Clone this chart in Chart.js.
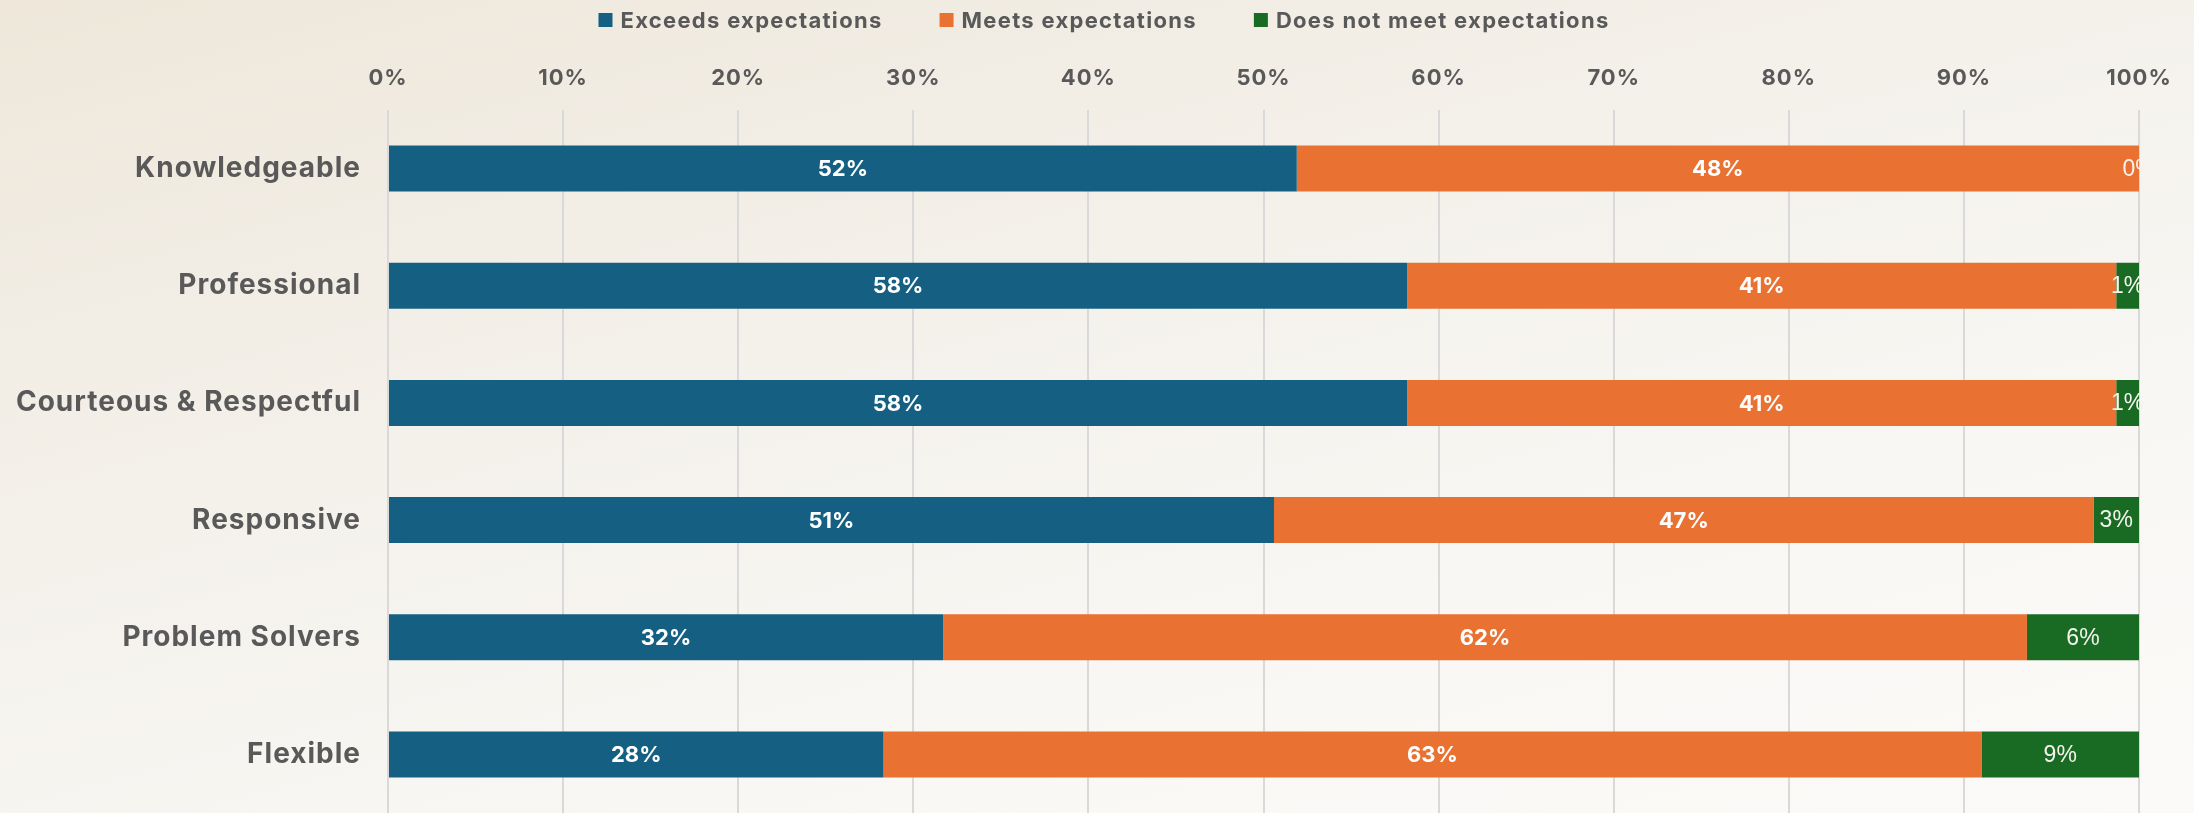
<!DOCTYPE html>
<html><head><meta charset="utf-8">
<script src="https://cdn.jsdelivr.net/npm/chart.js@4.4.1/dist/chart.umd.min.js"></script>
<style>
html,body{margin:0;padding:0;width:2194px;height:813px;overflow:hidden;
background:linear-gradient(165deg,#eee7da 0%,#f4f1eb 40%,#f9f8f5 75%,#fbfaf8 100%);}
#wrap{position:relative;width:2194px;height:813px;}
</style></head><body>
<div id="wrap"><canvas id="c" width="2194" height="813"></canvas></div>
<script>
const categories = ['Knowledgeable','Professional','Courteous & Respectful','Responsive','Problem Solvers','Flexible'];
const seriesNames = ['Exceeds expectations','Meets expectations','Does not meet expectations'];
const exceeds = [51.9, 58.2, 58.2, 50.6, 31.7, 28.3];
const meets = [48.1, 40.5, 40.5, 46.8, 61.9, 62.7];
const doesNotMeet = [0, 1.3, 1.3, 2.6, 6.4, 9.0];
const xTickValues = [0, 10, 20, 30, 40, 50, 60, 70, 80, 90, 100];
const seriesColors = ['#156082', '#E97132', '#196B24'];

const FONT = 'Inter, "Liberation Sans", Arial, sans-serif';
const TEXT = '#595959';

const spacingPlugin = {
  id: 'spacing',
  beforeLayout(chart) { chart.ctx.letterSpacing = '1px'; },
  beforeDraw(chart) { chart.ctx.letterSpacing = '1px'; }
};

const barLabels = {
  id: 'barLabels',
  afterDatasetsDraw(chart) {
    const ctx = chart.ctx;
    chart.data.datasets.forEach((ds, di) => {
      const meta = chart.getDatasetMeta(di);
      meta.data.forEach((bar, i) => {
        const v = ds.data[i];
        const p = bar.getProps(['x', 'y', 'base'], true);
        const cx = (p.x + p.base) / 2;
        ctx.save();
        ctx.letterSpacing = '0px';
        ctx.font = di < 2 ? 'bold 22px ' + FONT : '23px "Liberation Sans", Arial, sans-serif';
        ctx.fillStyle = di < 2 ? '#ffffff' : '#f4f4ec';
        ctx.textAlign = 'center';
        ctx.textBaseline = 'middle';
        ctx.fillText(Math.round(v) + '%', cx, p.y + 1);
        ctx.restore();
      });
    });
  }
};

const topLegend = {
  id: 'topLegend',
  afterDraw(chart) {
    const ctx = chart.ctx;
    ctx.save();
    ctx.letterSpacing = '1.3px';
    ctx.font = 'bold 22px ' + FONT;
    const box = 14, gap = 8, spacing = 57;
    const widths = seriesNames.map(n => ctx.measureText(n).width);
    const total = widths.reduce((a, w) => a + box + gap + w, 0) + spacing * (seriesNames.length - 1);
    let x = chart.width / 2 - total / 2 + 7;
    const y = 20;
    seriesNames.forEach((n, i) => {
      ctx.fillStyle = seriesColors[i];
      ctx.fillRect(x, y - box / 2, box, box);
      ctx.fillStyle = TEXT;
      ctx.textAlign = 'left';
      ctx.textBaseline = 'middle';
      ctx.fillText(n, x + box + gap, y + 1);
      x += box + gap + widths[i] + spacing;
    });
    ctx.restore();
  }
};

new Chart(document.getElementById('c'), {
  type: 'bar',
  data: {
    labels: categories,
    datasets: [
      { label: seriesNames[0], data: exceeds, backgroundColor: seriesColors[0] },
      { label: seriesNames[1], data: meets, backgroundColor: seriesColors[1] },
      { label: seriesNames[2], data: doesNotMeet, backgroundColor: seriesColors[2] }
    ]
  },
  options: {
    indexAxis: 'y',
    responsive: false,
    animation: false,
    devicePixelRatio: 1,
    layout: { padding: { top: 0, right: 55, bottom: 0, left: 0 } },
    datasets: { bar: { barPercentage: 1, categoryPercentage: 0.393, borderWidth: 0 } },
    plugins: { legend: { display: false }, tooltip: { enabled: false } },
    scales: {
      x: {
        position: 'top', stacked: true, min: 0, max: 100,
        afterBuildTicks: s => { s.ticks = xTickValues.map(v => ({ value: v })); },
        ticks: { callback: v => v + '%', font: { family: FONT, size: 22, weight: 'bold' }, color: TEXT, padding: 18, maxRotation: 0 },
        grid: { color: '#d9d9d9', lineWidth: 2, drawTicks: false },
        border: { display: false },
        afterFit: s => { s.height = 110; }
      },
      y: {
        stacked: true,
        ticks: { font: { family: FONT, size: 28, weight: 'bold' }, color: TEXT, padding: 19 },
        grid: { display: false },
        border: { display: false },
        afterFit: s => { s.width = 388; s.paddingTop = 0; s.paddingBottom = 0; }
      }
    }
  },
  plugins: [spacingPlugin, barLabels, topLegend]
});
</script>
</body></html>
